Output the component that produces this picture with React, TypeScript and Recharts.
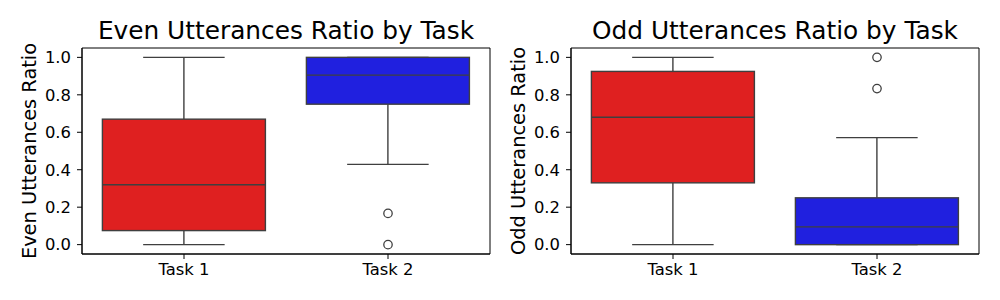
import React from 'react';
import { ComposedChart, Bar, Line, XAxis, YAxis, ReferenceArea } from 'recharts';

const tasks = ['Task 1', 'Task 2'];
const boxColors = ['#df2020', '#2020df'];
const yTicks = [0, 0.2, 0.4, 0.6, 0.8, 1.0];

// even utterances ratio, per task
const evenMin = [0, 0.4286];
const evenQ1 = [0.075, 0.75];
const evenMedian = [0.32, 0.905];
const evenQ3 = [0.67, 1.0];
const evenMax = [1.0, 1.0];
const evenOutliers: number[][] = [[], [0.1667, 0]];

// odd utterances ratio, per task
const oddMin = [0, 0];
const oddQ1 = [0.33, 0];
const oddMedian = [0.68, 0.095];
const oddQ3 = [0.925, 0.25];
const oddMax = [1.0, 0.5714];
const oddOutliers: number[][] = [[], [1.0, 0.8333]];

const FONT = 'DejaVu Sans';
const EDGE = '#3f3f3f';

function buildRows(
  min: number[],
  q1: number[],
  median: number[],
  q3: number[],
  max: number[],
  outliers: number[][]
) {
  return tasks.map((task, i) => ({
    task,
    min: min[i],
    q1: q1[i],
    median: median[i],
    q3: q3[i],
    max: max[i],
    o1: outliers[i][0] ?? null,
    o2: outliers[i][1] ?? null,
  }));
}

const evenRows = buildRows(evenMin, evenQ1, evenMedian, evenQ3, evenMax, evenOutliers);
const oddRows = buildRows(oddMin, oddQ1, oddMedian, oddQ3, oddMax, oddOutliers);

function BoxShape(props: any) {
  const { x, y, width, height, payload, index } = props;
  const top = Math.min(y, y + height);
  const h = Math.abs(height);
  const span = payload.max - payload.min;
  const py = (v: number) => (span === 0 ? top : top + ((payload.max - v) / span) * h);
  const cx = x + width / 2;
  const capW = width / 2;
  const yQ1 = py(payload.q1);
  const yQ3 = py(payload.q3);
  const yMed = py(payload.median);
  const yMin = py(payload.min);
  const yMax = py(payload.max);
  return (
    <g stroke={EDGE} strokeWidth={1.4}>
      <line x1={cx} x2={cx} y1={yMax} y2={yQ3} />
      <line x1={cx} x2={cx} y1={yQ1} y2={yMin} />
      <line x1={cx - capW / 2} x2={cx + capW / 2} y1={yMax} y2={yMax} />
      <line x1={cx - capW / 2} x2={cx + capW / 2} y1={yMin} y2={yMin} />
      <rect x={x} y={yQ3} width={width} height={yQ1 - yQ3} fill={boxColors[index]} />
      <line x1={x} x2={x + width} y1={yMed} y2={yMed} />
    </g>
  );
}

interface PanelProps {
  title: string;
  yLabel: string;
  data: any[];
  left: number;
  margin: { top: number; right: number; bottom: number; left: number };
}

function BoxPanel({ title, yLabel, data, left, margin }: PanelProps) {
  const tickStyle = { fill: '#000', fontSize: 16.4, fontFamily: FONT };
  const outlierDot = { r: 4.2, fill: '#fff', stroke: EDGE, strokeWidth: 1.3 };
  return (
    <div style={{ position: 'absolute', left, top: 0 }}>
      <ComposedChart width={500} height={300} data={data} margin={margin} barCategoryGap="10%">
        <XAxis
          dataKey="task"
          interval={0}
          height={30}
          tickSize={5}
          tickMargin={4}
          tick={tickStyle}
          axisLine={{ stroke: '#000' }}
          tickLine={{ stroke: '#000' }}
        />
        <YAxis
          type="number"
          domain={[-0.05, 1.05]}
          ticks={yTicks}
          tickFormatter={(v: number) => v.toFixed(1)}
          width={60}
          tickSize={5}
          tickMargin={6}
          tick={tickStyle}
          axisLine={{ stroke: '#000' }}
          tickLine={{ stroke: '#000' }}
          label={{
            content: ({ viewBox }: any) => {
              const bx = viewBox.x + viewBox.width - 46;
              const by = viewBox.y + viewBox.height / 2;
              return (
                <text
                  transform={`translate(${bx},${by}) rotate(-90)`}
                  textAnchor="middle"
                  fontSize={19.4}
                  fontFamily={FONT}
                  fill="#000"
                >
                  {yLabel}
                </text>
              );
            },
          }}
        />
        {/* axes frame + title */}
        <ReferenceArea
          x1="Task 1"
          x2="Task 2"
          y1={-0.05}
          y2={1.05}
          fill="none"
          fillOpacity={0}
          stroke="#000"
          strokeWidth={1}
          label={{
            content: ({ viewBox }: any) => (
              <text
                x={viewBox.x + viewBox.width / 2}
                y={viewBox.y - 9}
                textAnchor="middle"
                fontSize={24.8}
                fontFamily={FONT}
                fill="#000"
              >
                {title}
              </text>
            ),
          }}
        />
        <Bar
          dataKey={(d: any) => [d.min, d.max]}
          shape={BoxShape}
          isAnimationActive={false}
        />
        <Line dataKey="o1" stroke="none" dot={outlierDot} activeDot={false} isAnimationActive={false} />
        <Line dataKey="o2" stroke="none" dot={outlierDot} activeDot={false} isAnimationActive={false} />
      </ComposedChart>
    </div>
  );
}

export default function App() {
  return (
    <div style={{ position: 'absolute', left: 0, top: 0, width: 1000, height: 300, background: '#fff' }}>
      <BoxPanel
        title="Even Utterances Ratio by Task"
        yLabel="Even Utterances Ratio"
        data={evenRows}
        left={0}
        margin={{ top: 48, right: 10, bottom: 16, left: 22 }}
      />
      <BoxPanel
        title="Odd Utterances Ratio by Task"
        yLabel="Odd Utterances Ratio"
        data={oddRows}
        left={500}
        margin={{ top: 48, right: 21, bottom: 16, left: 11 }}
      />
    </div>
  );
}
